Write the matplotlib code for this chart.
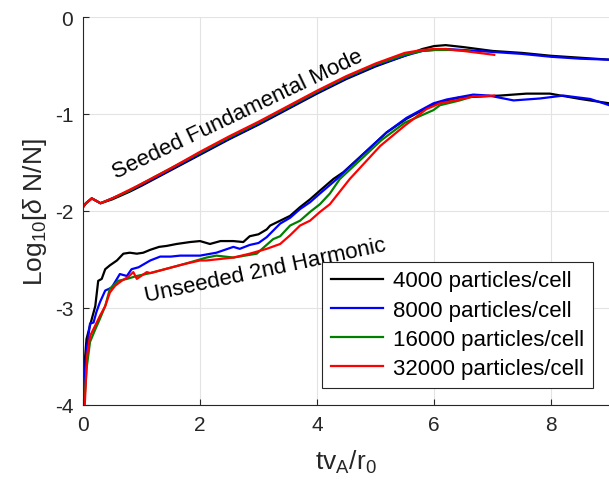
import matplotlib
matplotlib.use("Agg")
import matplotlib.pyplot as plt

plt.rcParams['font.family'] = ['Liberation Sans', 'DejaVu Sans']
plt.rcParams['mathtext.fontset'] = 'custom'
plt.rcParams['mathtext.rm'] = 'Liberation Sans'
plt.rcParams['mathtext.it'] = 'Liberation Sans:italic'
plt.rcParams['axes.unicode_minus'] = False

labels = ['4000 particles/cell', '8000 particles/cell',
          '16000 particles/cell', '32000 particles/cell']
colors = ['#000000', '#0000ff', '#008000', '#ff0000']

# Seeded fundamental mode
up_k_x = [0, 0.05, 0.15, 0.3, 0.5, 0.8, 1.0, 1.5, 2.0, 2.5, 3.0, 3.5, 4.0, 4.5, 5.0, 5.5, 5.8, 6.0, 6.2, 6.5, 7.0, 7.5, 8.0, 8.5, 9.0]
up_k_y = [-1.96, -1.92, -1.87, -1.92, -1.88, -1.80, -1.74, -1.58, -1.42, -1.26, -1.11, -0.95, -0.79, -0.64, -0.51, -0.40, -0.33, -0.30, -0.29, -0.31, -0.35, -0.37, -0.40, -0.42, -0.44]
up_b_x = [0, 0.05, 0.15, 0.3, 0.5, 0.8, 1.0, 1.5, 2.0, 2.5, 3.0, 3.5, 4.0, 4.5, 5.0, 5.5, 5.8, 6.0, 6.2, 6.5, 7.0, 7.5, 8.0, 8.5, 9.0]
up_b_y = [-1.96, -1.92, -1.87, -1.92, -1.87, -1.79, -1.73, -1.57, -1.41, -1.25, -1.10, -0.94, -0.78, -0.63, -0.50, -0.40, -0.35, -0.34, -0.33, -0.34, -0.36, -0.38, -0.41, -0.43, -0.44]
up_g_x = [0, 0.05, 0.15, 0.3, 0.5, 0.8, 1.0, 1.5, 2.0, 2.5, 3.0, 3.5, 4.0, 4.5, 5.0, 5.5, 5.8, 6.0, 6.3, 6.6]
up_g_y = [-1.96, -1.92, -1.87, -1.92, -1.87, -1.79, -1.72, -1.56, -1.40, -1.24, -1.09, -0.93, -0.77, -0.62, -0.49, -0.39, -0.35, -0.34, -0.34, -0.35]
up_r_x = [0, 0.05, 0.15, 0.3, 0.5, 0.8, 1.0, 1.5, 2.0, 2.5, 3.0, 3.5, 4.0, 4.5, 5.0, 5.5, 5.8, 6.0, 6.2, 6.5, 7.03]
up_r_y = [-1.96, -1.92, -1.87, -1.92, -1.87, -1.78, -1.72, -1.56, -1.39, -1.23, -1.08, -0.92, -0.76, -0.61, -0.48, -0.37, -0.34, -0.33, -0.33, -0.35, -0.39]

# Unseeded 2nd harmonic
lo_k_x = [0.02, 0.06, 0.12, 0.21, 0.26, 0.32, 0.38, 0.46, 0.58, 0.69, 0.80, 0.92, 1.03, 1.15, 1.30, 1.43, 1.60, 1.83, 2.0, 2.17, 2.35, 2.57, 2.74, 2.85, 3.0, 3.14, 3.20, 3.37, 3.54, 3.71, 3.88, 4.05, 4.28, 4.45, 4.85, 5.19, 5.53, 5.99, 6.22, 6.44, 6.79, 7.13, 7.58, 7.98, 8.5, 9.0]
lo_k_y = [-3.63, -3.32, -3.18, -2.98, -2.72, -2.70, -2.60, -2.56, -2.51, -2.44, -2.43, -2.44, -2.43, -2.40, -2.37, -2.36, -2.34, -2.32, -2.31, -2.34, -2.31, -2.31, -2.32, -2.26, -2.24, -2.19, -2.15, -2.10, -2.05, -1.96, -1.88, -1.79, -1.67, -1.60, -1.38, -1.19, -1.05, -0.90, -0.86, -0.83, -0.82, -0.81, -0.79, -0.79, -0.845, -0.89]
lo_b_x = [0.02, 0.05, 0.12, 0.18, 0.23, 0.29, 0.38, 0.49, 0.58, 0.63, 0.75, 0.83, 0.95, 1.15, 1.32, 1.50, 1.66, 2.0, 2.28, 2.57, 2.68, 2.85, 3.0, 3.14, 3.37, 3.54, 3.71, 3.88, 4.05, 4.34, 4.85, 5.19, 5.53, 5.99, 6.22, 6.67, 6.94, 7.36, 7.81, 8.21, 8.67, 9.0]
lo_b_y = [-3.84, -3.49, -3.16, -3.15, -3.04, -2.94, -2.82, -2.79, -2.70, -2.65, -2.67, -2.60, -2.58, -2.51, -2.47, -2.47, -2.46, -2.46, -2.43, -2.37, -2.39, -2.35, -2.33, -2.27, -2.13, -2.07, -1.98, -1.91, -1.82, -1.67, -1.38, -1.19, -1.04, -0.89, -0.85, -0.80, -0.81, -0.86, -0.84, -0.81, -0.845, -0.91]
lo_g_x = [0.02, 0.06, 0.12, 0.21, 0.29, 0.38, 0.46, 0.55, 0.60, 0.75, 0.92, 1.15, 1.40, 1.71, 2.11, 2.28, 2.57, 2.97, 3.10, 3.25, 3.37, 3.54, 3.71, 3.88, 4.05, 4.22, 4.39, 4.8, 5.1, 5.5, 5.99, 6.1, 6.44, 6.6]
lo_g_y = [-4.0, -3.63, -3.35, -3.22, -3.11, -2.98, -2.80, -2.75, -2.72, -2.70, -2.67, -2.64, -2.60, -2.55, -2.48, -2.46, -2.48, -2.44, -2.37, -2.29, -2.26, -2.15, -2.10, -2.01, -1.93, -1.82, -1.67, -1.44, -1.27, -1.09, -0.96, -0.91, -0.86, -0.83]
lo_r_x = [0.03, 0.07, 0.12, 0.21, 0.29, 0.38, 0.46, 0.55, 0.66, 0.77, 0.86, 0.92, 1.09, 1.15, 1.40, 1.71, 2.0, 2.11, 2.57, 2.85, 3.14, 3.37, 3.54, 3.71, 3.88, 4.05, 4.22, 4.56, 5.08, 5.5, 5.87, 6.1, 6.44, 6.67, 7.03]
lo_r_y = [-4.0, -3.49, -3.29, -3.18, -3.08, -2.98, -2.84, -2.77, -2.72, -2.68, -2.63, -2.70, -2.63, -2.64, -2.60, -2.55, -2.51, -2.51, -2.48, -2.44, -2.39, -2.34, -2.25, -2.15, -2.10, -2.01, -1.93, -1.67, -1.33, -1.12, -0.95, -0.89, -0.85, -0.82, -0.81]

x_ticks = [0, 2, 4, 6, 8]
y_ticks = [-4, -3, -2, -1, 0]

fig = plt.figure(figsize=(6.09, 4.85), dpi=100)
ax = fig.add_axes([83/609, 79/485, 526.5/609, 388/485])

upper = [(up_k_x, up_k_y), (up_b_x, up_b_y), (up_g_x, up_g_y), (up_r_x, up_r_y)]
lower = [(lo_k_x, lo_k_y), (lo_b_x, lo_b_y), (lo_g_x, lo_g_y), (lo_r_x, lo_r_y)]
handles = []
for (ux, uy), (lx, ly), c, lab in zip(upper, lower, colors, labels):
    h, = ax.plot(lx, ly, color=c, lw=1.6, label=lab)
    ax.plot(ux, uy, color=c, lw=1.6)
    handles.append(h)

ax.set_xlim(0, 9)
ax.set_ylim(-4, 0)
ax.set_xticks(x_ticks)
ax.set_yticks(y_ticks)
ax.grid(True, color='#e3e3e3', lw=0.8)
ax.set_axisbelow(True)
for s in ['top', 'right']:
    ax.spines[s].set_visible(False)
for s in ['left', 'bottom']:
    ax.spines[s].set_color('#262626')
    ax.spines[s].set_linewidth(0.8)
ax.tick_params(direction='in', length=4, width=0.8, colors='#262626',
               labelsize=15, pad=7)

ax.set_xlabel('tv$_\\mathrm{A}$/r$_0$', fontsize=19, color='#262626', labelpad=10)
ax.set_ylabel('Log$_{10}$[$\\delta$ N/N]', fontsize=19, color='#262626', labelpad=4)

ax.text(2.64, -1.00, 'Seeded Fundamental Mode', rotation=25.5, fontsize=16,
        ha='center', va='center', rotation_mode='anchor')
ax.text(3.12, -2.61, 'Unseeded 2nd Harmonic', rotation=12, fontsize=16,
        ha='center', va='center', rotation_mode='anchor')

leg = ax.legend(handles=handles, loc='lower right', bbox_to_anchor=(0.968, 0.045),
                fontsize=16, frameon=True, fancybox=False, framealpha=1,
                edgecolor='#262626', handlelength=2.35, handletextpad=0.45,
                labelspacing=0.37, borderpad=0.38, borderaxespad=0)
leg.get_frame().set_linewidth(0.8)

fig.savefig('out.png', dpi=100)
